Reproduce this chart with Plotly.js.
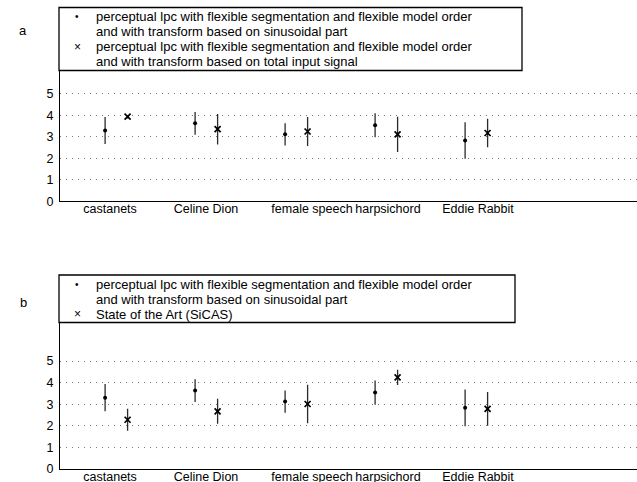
<!DOCTYPE html>
<html>
<head>
<meta charset="utf-8">
<script src="https://cdn.plot.ly/plotly-3.0.1.min.js"></script>
<style>html,body{margin:0;padding:0;background:#fff;}#chart{width:637px;height:482px;}</style>
</head>
<body>
<div id="chart"></div>
<script>
var categories = ['castanets', 'Celine Dion', 'female speech', 'harpsichord', 'Eddie Rabbit'];
var tickLabels = categories;

var legendA = [
  {symbol: '\u2022', lines: ['perceptual lpc with flexible segmentation and flexible model order',
                             'and with transform based on sinusoidal part']},
  {symbol: '\u00d7', lines: ['perceptual lpc with flexible segmentation and flexible model order',
                             'and with transform based on total input signal']}
];
var legendB = [
  {symbol: '\u2022', lines: ['perceptual lpc with flexible segmentation and flexible model order',
                             'and with transform based on sinusoidal part']},
  {symbol: '\u00d7', lines: ['State of the Art (SiCAS)']}
];

// panel a
var aSinMean = [3.30, 3.63, 3.12, 3.54, 2.83];
var aSinErr = [0.63, 0.53, 0.52, 0.56, 0.85];
var aTotalMean = [3.94, 3.36, 3.25, 3.12, 3.18];
var aTotalErr = [0.08, 0.71, 0.68, 0.82, 0.66];
// panel b
var bSinMean = [3.30, 3.63, 3.12, 3.54, 2.83];
var bSinErr = [0.63, 0.53, 0.52, 0.56, 0.85];
var bSicasMean = [2.28, 2.67, 3.01, 4.24, 2.78];
var bSicasErr = [0.51, 0.58, 0.89, 0.35, 0.78];

var yTicks = [0, 1, 2, 3, 4, 5];

var W = 637, H = 482;
var OFF = 0.125;
var catIdx = categories.map(function (c, i) { return i + 1; });
function shifted(d) { return catIdx.map(function (v) { return v + d; }); }
// tick label anchor positions (label placement offsets as in the original figure)
var labelShift = [-0.07, -0.004, 0.174, 0.018, 0.018];
var tickPos = catIdx.map(function (v, i) { return v + labelShift[i]; });

var FONT = 'Liberation Sans, Arial, Helvetica, sans-serif';
var errStyle = function (arr) {
  return {type: 'data', array: arr, visible: true, color: '#2a2a2a', thickness: 1.3, width: 0};
};
var dotMarker = {symbol: 'circle', size: 4, color: '#000'};
var xMarker = {symbol: 'x-thin', size: 6, color: '#000', line: {color: '#000', width: 1.7}};

var traces = [
  {x: shifted(-OFF), y: aSinMean, error_y: errStyle(aSinErr), mode: 'markers', name: 'a sinusoidal',
   marker: dotMarker, xaxis: 'x', yaxis: 'y', type: 'scatter'},
  {x: shifted(OFF), y: aTotalMean, error_y: errStyle(aTotalErr), mode: 'markers', name: 'a total',
   marker: xMarker, xaxis: 'x', yaxis: 'y', type: 'scatter'},
  {x: shifted(-OFF), y: bSinMean, error_y: errStyle(bSinErr), mode: 'markers', name: 'b sinusoidal',
   marker: dotMarker, xaxis: 'x2', yaxis: 'y2', type: 'scatter'},
  {x: shifted(OFF), y: bSicasMean, error_y: errStyle(bSicasErr), mode: 'markers', name: 'b SiCAS',
   marker: xMarker, xaxis: 'x2', yaxis: 'y2', type: 'scatter'}
];

var plotL = 60;
var x0 = 1 - (116.35 - plotL) / 90;
var x1 = x0 + (W - plotL) / 90;

function xa(anchor) {
  return {anchor: anchor, range: [x0, x1], showgrid: false, zeroline: false,
    showline: true, linecolor: '#000', linewidth: 1, ticks: '', tickmode: 'array',
    tickvals: tickPos, ticktext: tickLabels, tickangle: 0, ticklabelstandoff: -4,
    tickfont: {family: FONT, size: 12.5, color: '#000'}, fixedrange: true};
}
function ya(anchor, dom) {
  return {anchor: anchor, domain: dom, range: [0, 7], tickmode: 'array', tickvals: yTicks,
    showgrid: true, gridcolor: '#7a7a7a', griddash: '1px,5px', gridwidth: 1, zeroline: false,
    showline: true, linecolor: '#000', linewidth: 1, ticks: '', ticklabelstandoff: 3,
    tickfont: {family: FONT, size: 12.5, color: '#000'}, fixedrange: true};
}
function py(px) { return 1 - px / H; }
function pxX(px) { return (px - plotL) / (W - plotL); }

var annotations = [
  {text: 'a', xref: 'paper', yref: 'paper', x: pxX(23), y: py(31), showarrow: false,
   xanchor: 'center', yanchor: 'middle', font: {family: FONT, size: 13, color: '#000'}},
  {text: 'b', xref: 'paper', yref: 'paper', x: pxX(23), y: py(302), showarrow: false,
   xanchor: 'center', yanchor: 'middle', font: {family: FONT, size: 13, color: '#000'}}
];
function addLegend(entries, firstY, step) {
  var line = 0;
  entries.forEach(function (e) {
    annotations.push({text: e.symbol, xref: 'paper', yref: 'paper', x: pxX(77), y: py(firstY + line * step),
      showarrow: false, xanchor: 'center', yanchor: 'middle',
      font: {family: FONT, size: e.symbol === '\u2022' ? 10 : 12, color: '#000'}});
    e.lines.forEach(function (t) {
      annotations.push({text: t, xref: 'paper', yref: 'paper', x: pxX(94.5), y: py(firstY + line * step),
        showarrow: false, xanchor: 'left', yanchor: 'middle', borderpad: 0,
        font: {family: FONT, size: 13, color: '#000'}});
      line++;
    });
  });
}
addLegend(legendA, 17, 14.9);
addLegend(legendB, 284.5, 14.9);

var layout = {
  width: W, height: H,
  margin: {l: plotL, r: 0, t: 0, b: 0, pad: 0},
  paper_bgcolor: '#fff', plot_bgcolor: '#fff',
  showlegend: false,
  xaxis: xa('y'),
  yaxis: ya('x', [py(201.3), py(51)]),
  xaxis2: xa('y2'),
  yaxis2: ya('x2', [py(469), py(317.8)]),
  shapes: [
    {type: 'rect', xref: 'paper', yref: 'paper', x0: pxX(59), x1: pxX(522), y0: py(70.5), y1: py(7.5),
     fillcolor: '#fff', line: {color: '#000', width: 1.3}, layer: 'above'},
    {type: 'rect', xref: 'paper', yref: 'paper', x0: pxX(59), x1: pxX(515), y0: py(322.5), y1: py(275),
     fillcolor: '#fff', line: {color: '#000', width: 1.3}, layer: 'above'}
  ],
  annotations: annotations
};

Plotly.newPlot('chart', traces, layout, {displayModeBar: false, staticPlot: true});
</script>
</body>
</html>
